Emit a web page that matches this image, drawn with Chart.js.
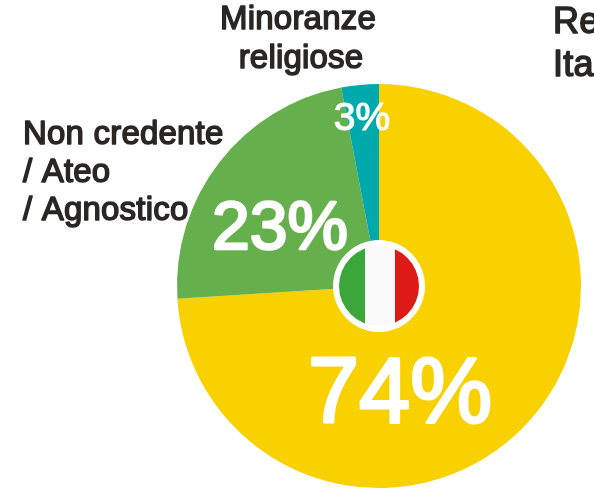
<!DOCTYPE html>
<html><head><meta charset="utf-8">
<style>html,body{margin:0;padding:0;background:#fff;overflow:hidden}canvas{display:block}</style>
<script src="https://cdn.jsdelivr.net/npm/chart.js@4"></script></head>
<body><div style="width:594px;height:500px"><canvas id="c" width="594" height="500"></canvas></div>
<script>
const categories = ["Religione cattolica", "Non credente / Ateo / Agnostico", "Minoranze religiose"];
const values = [74, 23, 3];
const colors = ["#F9D000", "#65B04D", "#00A9AB"];
const FONT = '"Liberation Sans", Arial, sans-serif';
const TEXT = "#2A2623";
const darkLabels = [
  {text:"Minoranze", x:298, y:20, align:"center"},
  {text:"religiose", x:301, y:59, align:"center"},
  {text:"Non credente", x:23, y:135, align:"left"},
  {text:"/ Ateo", x:23, y:173, align:"left"},
  {text:"/ Agnostico", x:23, y:211, align:"left"}
];
const titleLines = ["Religione in", "Italia"];
const pctPos = [{size:92, sw:3, dx:21, dy:111},{size:68, sw:2.5, dx:-99, dy:-56},{size:39, sw:1.2, dx:-17, dy:-167}];
function heavyText(ctx,t,x,y,sw){ctx.lineJoin="round";ctx.lineWidth=sw;ctx.strokeStyle=ctx.fillStyle;ctx.strokeText(t,x,y);ctx.fillText(t,x,y);}
const overlay = {
  id:"overlay",
  afterDatasetsDraw(chart){
    const {ctx} = chart;
    const arc = chart.getDatasetMeta(0).data[0];
    const cx = arc.x, cy = arc.y;
    ctx.save();
    ctx.textBaseline = "middle";
    values.forEach((v,i)=>{
      const p = pctPos[i];
      ctx.fillStyle = "#fff"; ctx.textAlign = "center";
      ctx.font = `${p.size}px ${FONT}`;
      heavyText(ctx,v+"%",cx+p.dx,cy+p.dy,p.sw);
    });
    ctx.beginPath(); ctx.arc(cx,cy,46,0,Math.PI*2); ctx.fillStyle="#fff"; ctx.fill();
    ctx.save();
    ctx.beginPath(); ctx.arc(cx,cy,40,0,Math.PI*2); ctx.clip();
    ctx.fillStyle="#3BA63A"; ctx.fillRect(cx-40,cy-40,26,80);
    ctx.fillStyle="#FAFAFA"; ctx.fillRect(cx-14,cy-40,30,80);
    ctx.fillStyle="#DE1A16"; ctx.fillRect(cx+16,cy-40,24,80);
    ctx.restore();
    ctx.fillStyle = TEXT;
    ctx.font = `33px ${FONT}`;
    ctx.letterSpacing = "0.2px";
    darkLabels.forEach(l=>{ctx.textAlign=l.align; heavyText(ctx,l.text,l.x,l.y,1.5);});
    ctx.textAlign="left"; ctx.font=`36px ${FONT}`;
    titleLines.forEach((t,i)=>heavyText(ctx,t,553,23+i*43,1.5));
    ctx.restore();
  }
};
new Chart(document.getElementById("c"),{
  type:"pie",
  data:{labels:categories,datasets:[{data:values,backgroundColor:colors,borderWidth:0}]},
  options:{responsive:false,animation:false,
    layout:{padding:{left:177,top:84,right:13,bottom:12}},
    plugins:{legend:{display:false},tooltip:{enabled:false}}},
  plugins:[overlay]
});
</script></body></html>
